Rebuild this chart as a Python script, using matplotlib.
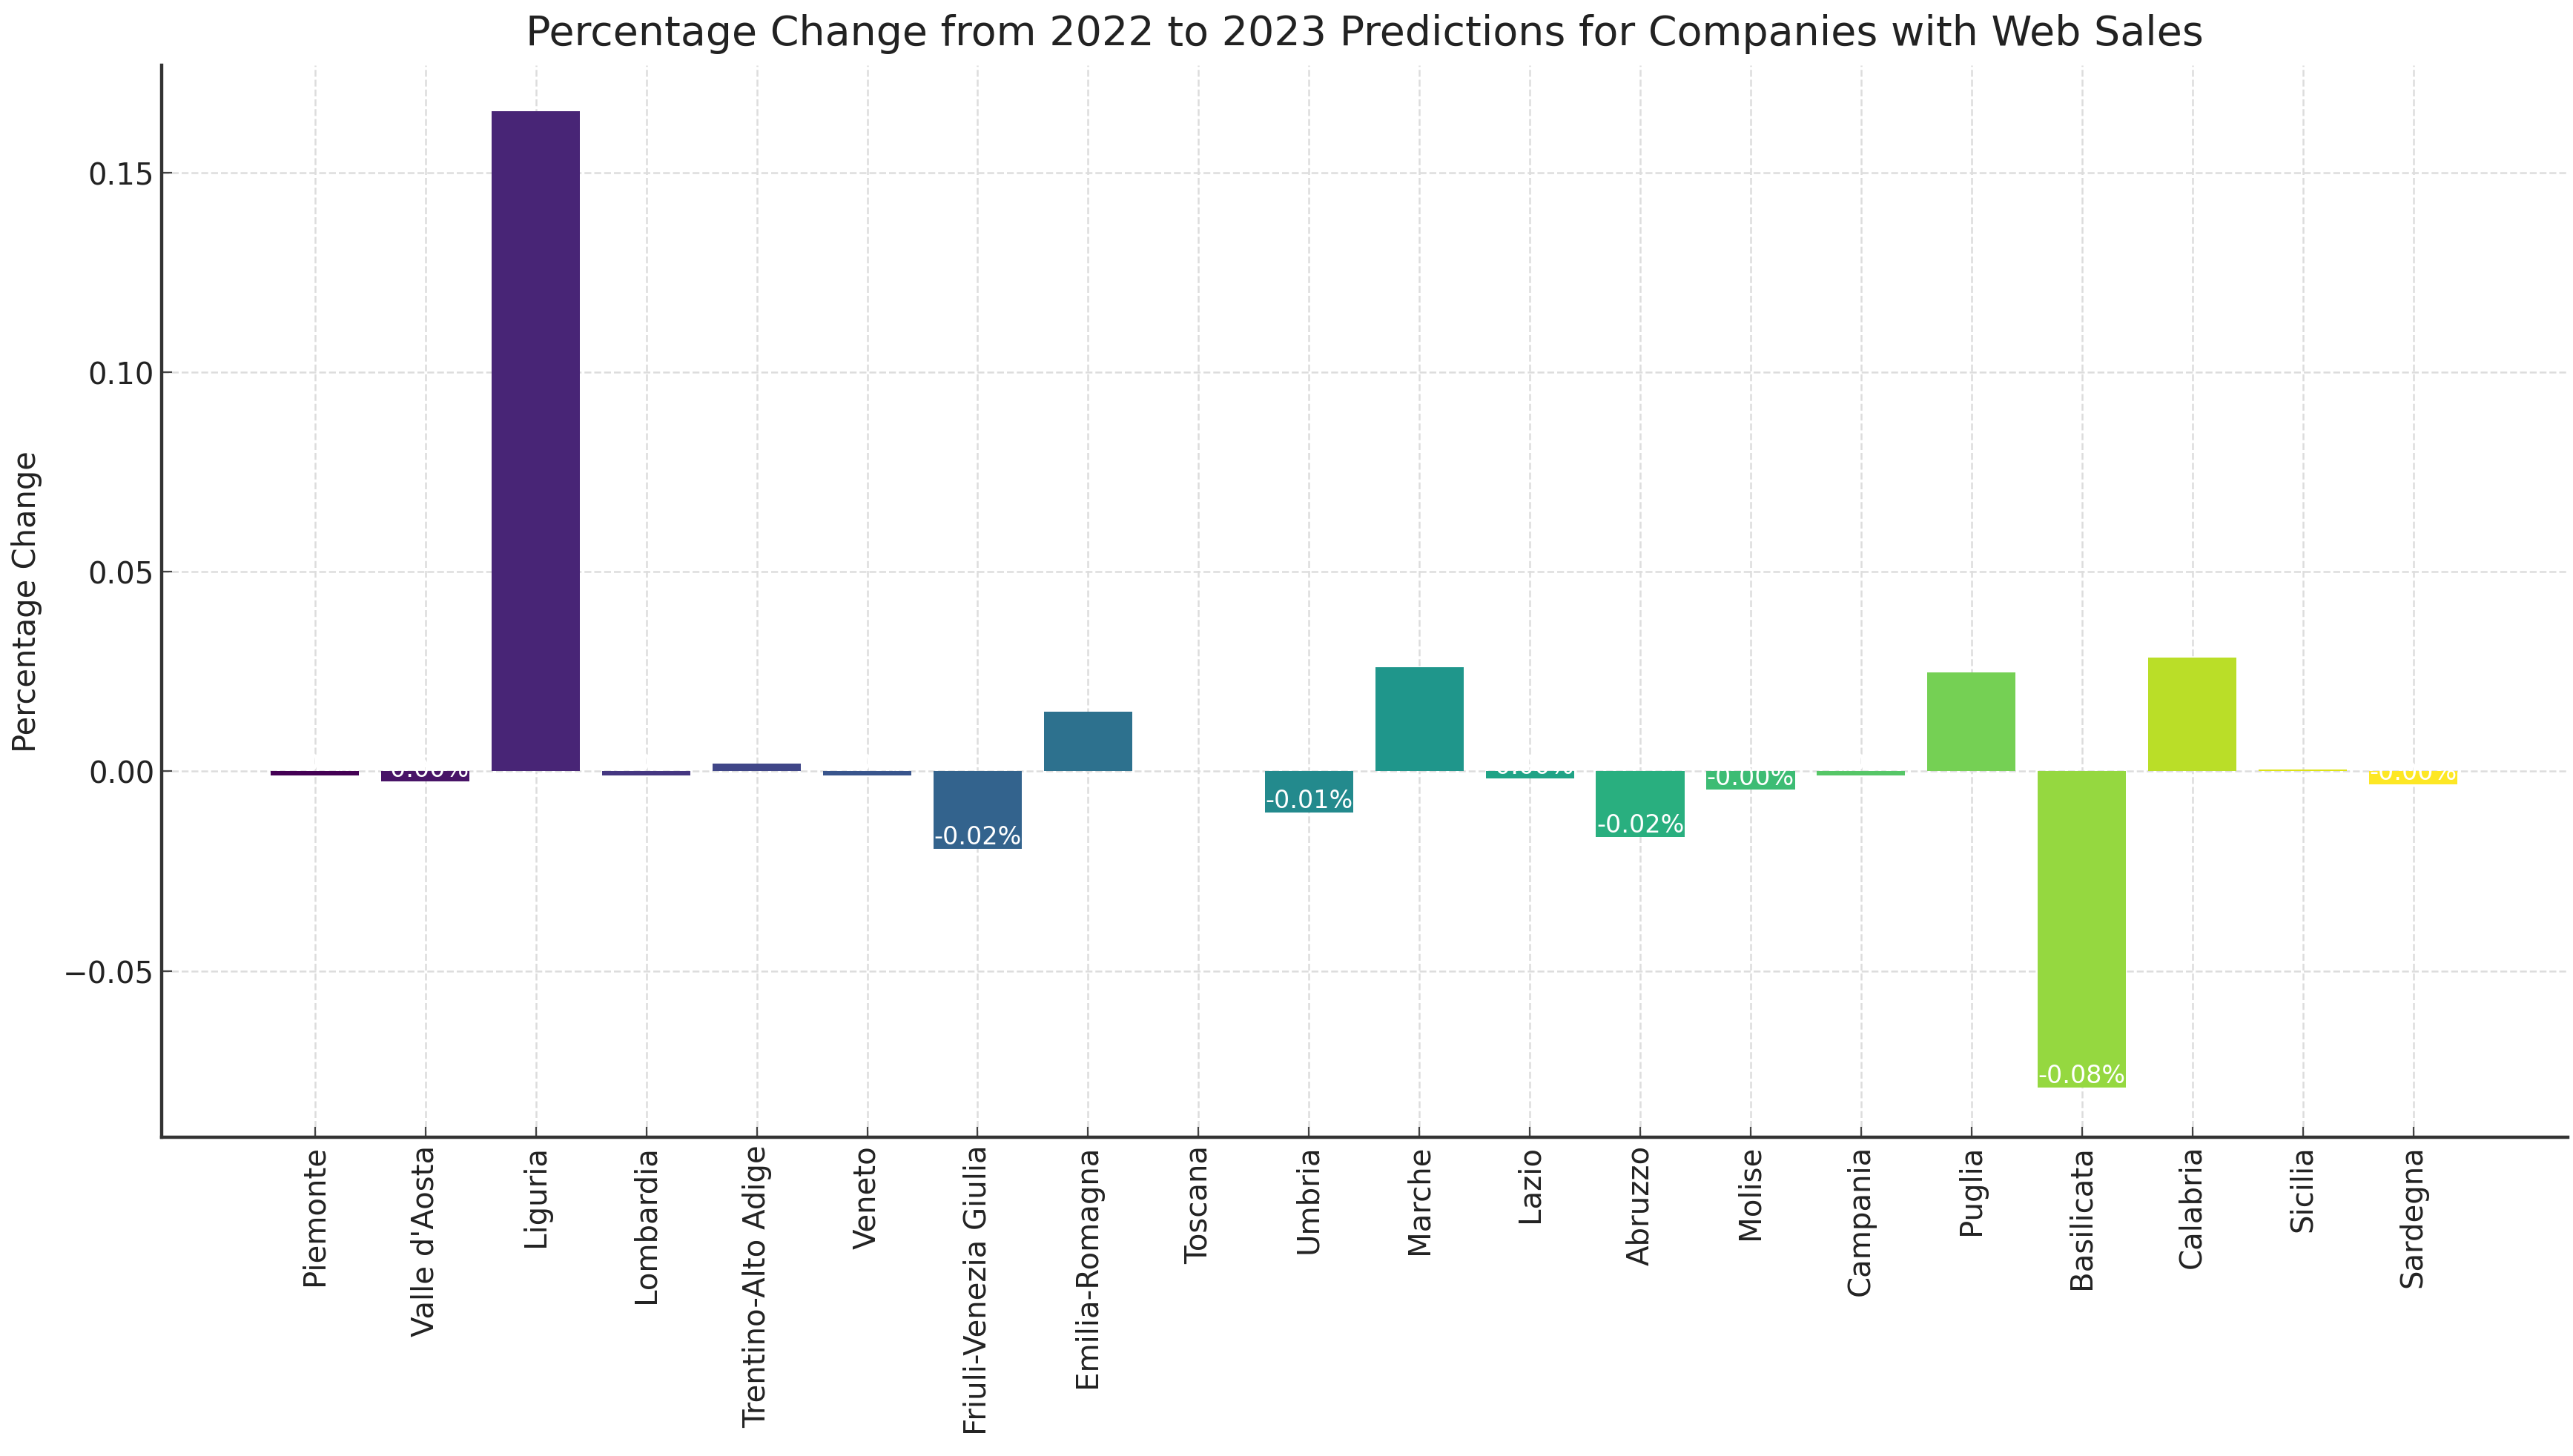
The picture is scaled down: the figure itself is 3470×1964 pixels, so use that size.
import numpy as np
import matplotlib
matplotlib.use('Agg')
import matplotlib.pyplot as plt

# Regions and % change between 2022 and 2023 predictions
regions = ['Piemonte', "Valle d'Aosta", 'Liguria', 'Lombardia', 'Trentino-Alto Adige',
           'Veneto', 'Friuli-Venezia Giulia', 'Emilia-Romagna', 'Toscana', 'Umbria',
           'Marche', 'Lazio', 'Abruzzo', 'Molise', 'Campania', 'Puglia', 'Basilicata',
           'Calabria', 'Sicilia', 'Sardegna']
pct_change = [-0.0010, -0.0025, 0.1653, -0.0010, 0.0020,
              -0.0010, -0.0194, 0.0149, 0.0001, -0.0103,
              0.0260, -0.0018, -0.0165, -0.0045, -0.0010, 0.0248, -0.0793,
              0.0285, 0.0004, -0.0033]

fig = plt.figure(figsize=(17.35, 9.825), dpi=200)
ax = fig.add_axes([0.0628, 0.2188, 0.9352, 0.7359])

x = np.arange(len(regions))
colors = plt.cm.viridis(np.linspace(0, 1, len(regions)))
bars = ax.bar(x, pct_change, width=0.8, color=colors, zorder=2)

# value labels in white at the end of each bar
for b, v in zip(bars, pct_change):
    ax.text(b.get_x() + b.get_width() / 2, v, f'{v:.2f}%',
            ha='center', va='bottom', color='white', fontsize=12, zorder=3)

ax.set_xlim(-1.39, 20.4)
ax.set_ylim(-0.0917, 0.1769)
ax.set_xticks(x)
ax.set_xticklabels(regions, rotation=90, fontsize=14.5)
ax.set_yticks([-0.05, 0.0, 0.05, 0.10, 0.15])
ax.set_yticklabels(['\u22120.05', '0.00', '0.05', '0.10', '0.15'], fontsize=14.5)
ax.tick_params(direction='in', length=5, color='#444444', labelcolor='#222222')

ax.grid(True, linestyle='--', color='#dddddd', linewidth=0.9, zorder=0)
ax.set_axisbelow(True)
for s in ['top', 'right']:
    ax.spines[s].set_visible(False)
for s in ['left', 'bottom']:
    ax.spines[s].set_color('#333333')
    ax.spines[s].set_linewidth(1.6)

ax.set_title('Percentage Change from 2022 to 2023 Predictions for Companies with Web Sales',
             fontsize=20, color='#222222', pad=10)
ax.set_ylabel('Percentage Change', fontsize=15, color='#222222', labelpad=10)

plt.savefig('out.png', dpi=200)
plt.close('all')
